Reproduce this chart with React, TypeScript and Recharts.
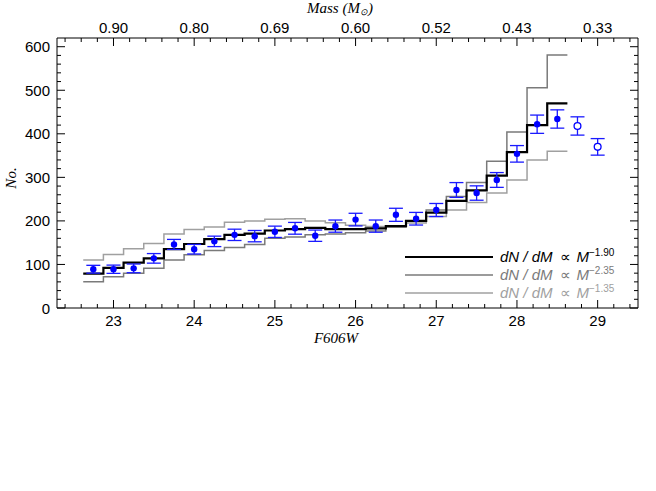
import React from "react";
import { ComposedChart, Line, Scatter, ErrorBar, XAxis, YAxis } from "recharts";

// F606W bin centres (0.25 mag bins)
const binCenters = [
  22.75, 23.0, 23.25, 23.5, 23.75, 24.0, 24.25, 24.5, 24.75, 25.0, 25.25, 25.5,
  25.75, 26.0, 26.25, 26.5, 26.75, 27.0, 27.25, 27.5, 27.75, 28.0, 28.25, 28.5,
];
// observed counts (filled points) and their errors
const observed = [
  89, 89, 91, 114, 146, 135, 153, 168, 165, 175, 183, 166,
  188, 203, 188, 214, 205, 225, 271, 264, 294, 354, 422, 434,
];
const observedErr = [
  9, 9.5, 10, 11, 11.5, 11, 12, 13, 13, 13, 13.5, 13,
  14, 14.5, 14, 15, 14.5, 15, 17, 16.5, 17, 19, 21, 21,
];
// incomplete bins (open points)
const faintMags = [28.75, 29.0];
const faintCounts = [418, 370];
const faintErr = [21, 19];

// model luminance functions
const model190 = [
  79, 92, 104, 114, 135, 147, 158, 168, 171, 178, 181, 184,
  181, 181, 183, 188, 200, 219, 246, 270, 304, 358, 420, 470,
];
const model235 = [
  60, 72, 80, 91, 110, 122, 132, 139, 146, 160, 163, 168,
  170, 173, 177, 186, 199, 225, 256, 288, 337, 404, 506, 581,
];
const model135 = [
  110, 123, 136, 148, 170, 180, 186, 197, 200, 204, 205, 200,
  196, 190, 187, 188, 195, 210, 225, 242, 264, 294, 340, 360,
];

const magTicks = [23, 24, 25, 26, 27, 28, 29];
const massLabels = ["0.90", "0.80", "0.69", "0.60", "0.52", "0.43", "0.33"];
const countTicks = [0, 100, 200, 300, 400, 500, 600];

const BIN = 0.25;
const X_DOMAIN = [22.3, 29.5];
const Y_DOMAIN = [0, 620];

const toSteps = (vals: number[]) => {
  const pts = binCenters.map((c, i) => ({ x: c - BIN / 2, y: vals[i] }));
  pts.push({ x: binCenters[binCenters.length - 1] + BIN / 2, y: vals[vals.length - 1] });
  return pts;
};

const obsData = binCenters.map((x, i) => ({ x, y: observed[i], err: observedErr[i] }));
const faintData = faintMags.map((x, i) => ({ x, y: faintCounts[i], err: faintErr[i] }));

// minor ticks every 0.2 mag and every 20 counts
const xTicks = Array.from({ length: 36 }, (_, i) => Math.round((22.4 + 0.2 * i) * 10) / 10);
const yTicks = Array.from({ length: 31 }, (_, i) => i * 20);

const TICK_FONT = "'Liberation Sans', Arial, sans-serif";
const TITLE_FONT = "'Liberation Serif', 'Times New Roman', serif";

const isMajorX = (v: number) => magTicks.some((t) => Math.abs(t - v) < 1e-6);
const isMajorY = (v: number) => countTicks.includes(v);

const BottomTick = ({ x, y, payload }: any) => {
  const major = isMajorX(payload.value);
  return (
    <g>
      <line x1={x} x2={x} y1={y} y2={y - (major ? 8 : 4)} stroke="#000" strokeWidth={1} />
      {major && (
        <text x={x} y={y + 18} textAnchor="middle" fontSize={15} fontFamily={TICK_FONT} fill="#000">
          {payload.value}
        </text>
      )}
    </g>
  );
};

const TopTick = ({ x, y, payload }: any) => {
  const major = isMajorX(payload.value);
  const idx = magTicks.findIndex((t) => Math.abs(t - payload.value) < 1e-6);
  return (
    <g>
      <line x1={x} x2={x} y1={y} y2={y + (major ? 8 : 4)} stroke="#000" strokeWidth={1} />
      {major && (
        <text x={x} y={y - 5} textAnchor="middle" fontSize={15} fontFamily={TICK_FONT} fill="#000">
          {massLabels[idx]}
        </text>
      )}
    </g>
  );
};

const LeftTick = ({ x, y, payload }: any) => {
  const major = isMajorY(payload.value);
  return (
    <g>
      <line x1={x} x2={x + (major ? 8 : 4)} y1={y} y2={y} stroke="#000" strokeWidth={1} />
      {major && (
        <text x={x - 7} y={y + 5.5} textAnchor="end" fontSize={15} fontFamily={TICK_FONT} fill="#000">
          {payload.value}
        </text>
      )}
    </g>
  );
};

const RightTick = ({ x, y, payload }: any) => {
  const major = isMajorY(payload.value);
  return <line x1={x} x2={x - (major ? 8 : 4)} y1={y} y2={y} stroke="#000" strokeWidth={1} />;
};

const FilledDot = ({ cx, cy }: any) => <circle cx={cx} cy={cy} r={3.2} fill="#0000ff" />;
const OpenDot = ({ cx, cy }: any) => (
  <circle cx={cx} cy={cy} r={3.4} fill="#fff" stroke="#0000ff" strokeWidth={1.3} />
);

const legendRows = [
  { exp: "\u22121.90", color: "#000", width: 2, y: 257 },
  { exp: "\u22122.35", color: "#7a7a7a", width: 1.5, y: 275 },
  { exp: "\u22121.35", color: "#a0a0a0", width: 1.5, y: 293 },
];

export default function App() {
  return (
    <div style={{ position: "absolute", left: 0, top: 0, width: 656, height: 491, background: "#fff" }}>
      <ComposedChart width={656} height={491} margin={{ top: 0, right: 0, bottom: 153, left: 0 }}>
        <XAxis
          dataKey="x"
          type="number"
          domain={X_DOMAIN}
          ticks={xTicks}
          interval={0}
          allowDataOverflow
          height={30}
          tickSize={0}
          tickMargin={0}
          tickLine={false}
          tick={<BottomTick />}
          axisLine={{ stroke: "#000" }}
        />
        <XAxis
          xAxisId="top"
          dataKey="x"
          orientation="top"
          type="number"
          domain={X_DOMAIN}
          ticks={xTicks}
          interval={0}
          allowDataOverflow
          height={38}
          tickSize={0}
          tickMargin={0}
          tickLine={false}
          tick={<TopTick />}
          axisLine={{ stroke: "#000" }}
        />
        <YAxis
          type="number"
          domain={Y_DOMAIN}
          ticks={yTicks}
          interval={0}
          allowDataOverflow
          width={57}
          tickSize={0}
          tickMargin={0}
          tickLine={false}
          tick={<LeftTick />}
          axisLine={{ stroke: "#000" }}
        />
        <YAxis
          yAxisId="right"
          orientation="right"
          type="number"
          domain={Y_DOMAIN}
          ticks={yTicks}
          interval={0}
          allowDataOverflow
          width={18}
          tickSize={0}
          tickMargin={0}
          tickLine={false}
          tick={<RightTick />}
          axisLine={{ stroke: "#000" }}
        />
        {/* invisible series so the top / right frame axes get their ticks */}
        <Line
          data={obsData}
          dataKey="y"
          xAxisId="top"
          yAxisId="right"
          stroke="none"
          dot={false}
          activeDot={false}
          legendType="none"
          isAnimationActive={false}
        />
        <Line data={toSteps(model135)} dataKey="y" type="stepAfter" stroke="#a0a0a0" strokeWidth={1.5} dot={false} isAnimationActive={false} />
        <Line data={toSteps(model235)} dataKey="y" type="stepAfter" stroke="#7a7a7a" strokeWidth={1.5} dot={false} isAnimationActive={false} />
        <Line data={toSteps(model190)} dataKey="y" type="stepAfter" stroke="#000" strokeWidth={2.2} dot={false} isAnimationActive={false} />
        <Scatter data={obsData} dataKey="y" shape={<FilledDot />} isAnimationActive={false}>
          <ErrorBar dataKey="err" direction="y" width={7} stroke="#1a1aff" strokeWidth={1.3} isAnimationActive={false} />
        </Scatter>
        <Scatter data={faintData} dataKey="y" shape={<OpenDot />} isAnimationActive={false}>
          <ErrorBar dataKey="err" direction="y" width={7} stroke="#1a1aff" strokeWidth={1.3} isAnimationActive={false} />
        </Scatter>
      </ComposedChart>

      <svg width={656} height={491} style={{ position: "absolute", left: 0, top: 0, pointerEvents: "none" }}>
        <text x={340} y={13} textAnchor="middle" fontSize={15} fontStyle="italic" fontFamily={TITLE_FONT}>
          Mass (M<tspan fontSize={9} dy={2}>{"\u2299"}</tspan><tspan dy={-2}>)</tspan>
        </text>
        <text x={336} y={343} textAnchor="middle" fontSize={15} fontStyle="italic" fontFamily={TITLE_FONT}>
          F606W
        </text>
        <text
          x={0}
          y={0}
          transform="translate(16,178) rotate(-90)"
          textAnchor="middle"
          fontSize={15}
          fontStyle="italic"
          fontFamily={TITLE_FONT}
        >
          No.
        </text>
        {legendRows.map((r) => (
          <g key={r.exp}>
            <line x1={405} x2={493} y1={r.y} y2={r.y} stroke={r.color} strokeWidth={r.width} />
            <text x={500} y={r.y + 5} fontSize={15} fontFamily={TICK_FONT} fill={r.color}>
              <tspan fontStyle="italic">dN / dM</tspan>
              <tspan dx={7}>{"\u221d"}</tspan>
              <tspan dx={6} fontStyle="italic">M</tspan>
              <tspan fontSize={10} dy={-6}>{r.exp}</tspan>
            </text>
          </g>
        ))}
      </svg>
    </div>
  );
}
